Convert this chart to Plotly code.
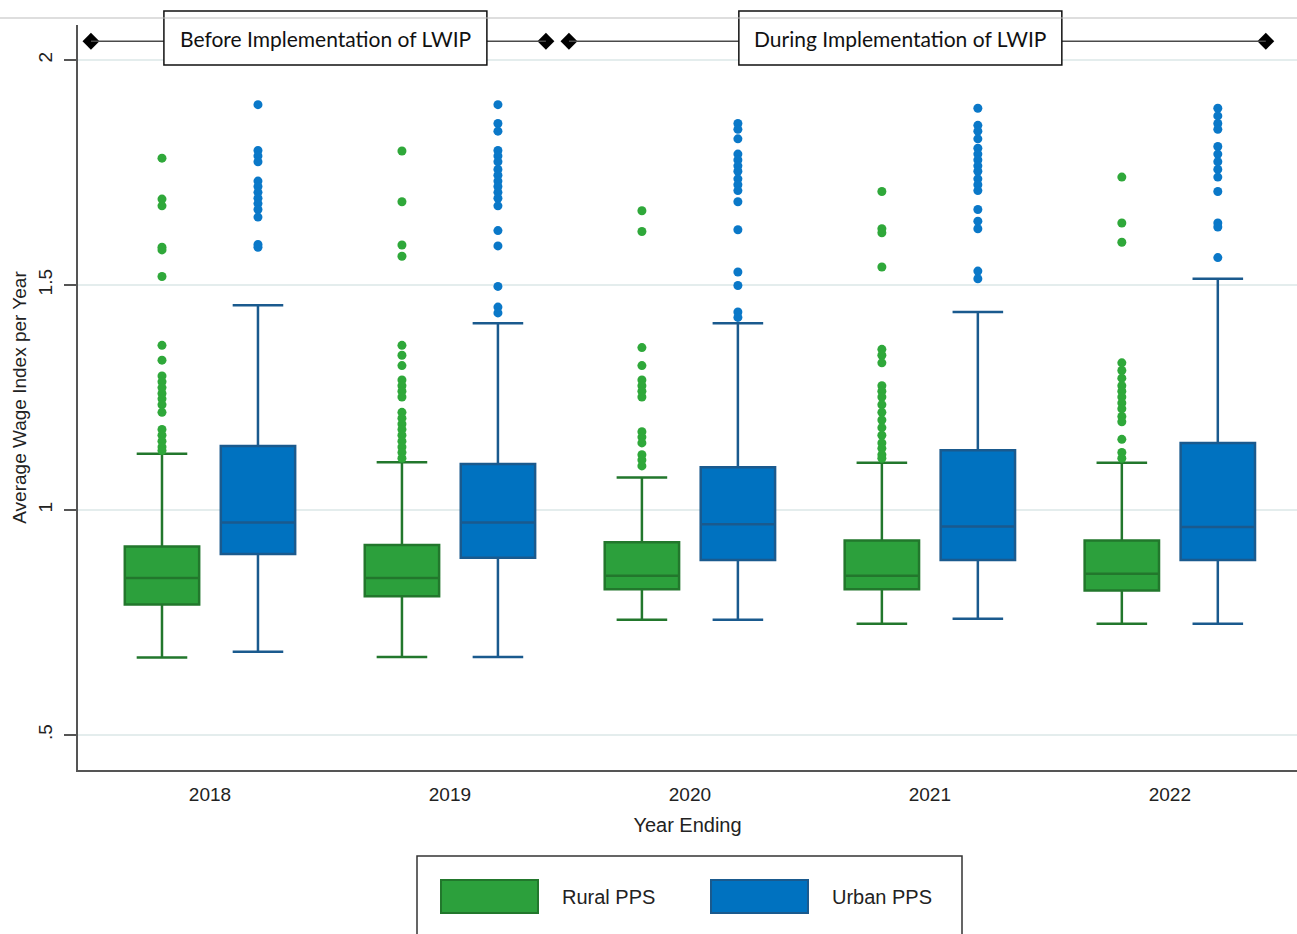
import plotly.graph_objects as go

# ---------------- data ----------------
years = [2018, 2019, 2020, 2021, 2022]

rural_lower  = [0.672, 0.673, 0.756, 0.747, 0.747]
rural_q1     = [0.790, 0.808, 0.824, 0.824, 0.821]
rural_median = [0.849, 0.849, 0.854, 0.854, 0.858]
rural_q3     = [0.919, 0.922, 0.928, 0.932, 0.932]
rural_upper  = [1.125, 1.106, 1.072, 1.105, 1.105]

urban_lower  = [0.685, 0.673, 0.756, 0.758, 0.747]
urban_q1     = [0.902, 0.894, 0.889, 0.889, 0.889]
urban_median = [0.972, 0.972, 0.968, 0.963, 0.962]
urban_q3     = [1.142, 1.102, 1.095, 1.133, 1.149]
urban_upper  = [1.455, 1.415, 1.415, 1.440, 1.514]

rural_outliers_2018 = [1.782, 1.691, 1.676, 1.584, 1.578, 1.519, 1.366, 1.333, 1.298, 1.285, 1.272,
                       1.259, 1.247, 1.234, 1.217, 1.179, 1.166, 1.153, 1.140, 1.132]
rural_outliers_2019 = [1.798, 1.685, 1.589, 1.564, 1.366, 1.344, 1.321, 1.289, 1.276, 1.264, 1.251,
                       1.217, 1.204, 1.191, 1.179, 1.166, 1.153, 1.140, 1.128, 1.115]
rural_outliers_2020 = [1.665, 1.619, 1.361, 1.321, 1.289, 1.276, 1.264, 1.251, 1.174, 1.162, 1.149,
                       1.123, 1.111, 1.098]
rural_outliers_2021 = [1.708, 1.625, 1.616, 1.540, 1.357, 1.344, 1.327, 1.276, 1.264, 1.251, 1.234,
                       1.217, 1.200, 1.183, 1.166, 1.149, 1.137, 1.123, 1.115]
rural_outliers_2022 = [1.740, 1.638, 1.595, 1.327, 1.310, 1.293, 1.276, 1.264, 1.251, 1.238, 1.225,
                       1.208, 1.196, 1.157, 1.128, 1.115]

urban_outliers_2018 = [1.901, 1.799, 1.787, 1.774, 1.731, 1.719, 1.706, 1.693, 1.681, 1.668, 1.651,
                       1.590, 1.584]
urban_outliers_2019 = [1.901, 1.859, 1.842, 1.799, 1.787, 1.774, 1.757, 1.744, 1.731, 1.719, 1.706,
                       1.693, 1.676, 1.621, 1.587, 1.497, 1.451, 1.438]
urban_outliers_2020 = [1.859, 1.846, 1.825, 1.791, 1.778, 1.765, 1.753, 1.736, 1.723, 1.710, 1.685,
                       1.623, 1.529, 1.499, 1.440, 1.428]
urban_outliers_2021 = [1.893, 1.855, 1.842, 1.825, 1.804, 1.791, 1.778, 1.765, 1.753, 1.736, 1.723,
                       1.710, 1.668, 1.642, 1.625, 1.531, 1.514]
urban_outliers_2022 = [1.893, 1.876, 1.859, 1.846, 1.808, 1.791, 1.774, 1.757, 1.740, 1.708, 1.638,
                       1.629, 1.561]

rural_outliers = [rural_outliers_2018, rural_outliers_2019, rural_outliers_2020,
                  rural_outliers_2021, rural_outliers_2022]
urban_outliers = [urban_outliers_2018, urban_outliers_2019, urban_outliers_2020,
                  urban_outliers_2021, urban_outliers_2022]

series_names = ["Rural PPS", "Urban PPS"]
ytick_vals = [0.5, 1, 1.5, 2]
ytick_text = [".5", "1", "1.5", "2"]
phase_labels = ["Before Implementation of LWIP", "During Implementation of LWIP"]

# ---------------- style ----------------
W, H = 1297, 934
ML, MR, MT, MB = 78, 0, 25, 164
PW, PH = W - ML - MR, H - MT - MB
FONT = "Arial"

GREEN_FILL, GREEN_LINE, GREEN_DOT = "#2ca03c", "#22772c", "#2fa83a"
BLUE_FILL, BLUE_LINE, BLUE_DOT = "#0072c0", "#1a5a8e", "#0a78c8"
OFFSET = 0.2
BOXW = 0.31


def px_x(px):
    return (px - ML) / PW


def px_y(py):
    return (H - MB - py) / PH


fig = go.Figure()

groups = [
    (series_names[0], -OFFSET, rural_lower, rural_q1, rural_median, rural_q3, rural_upper,
     rural_outliers, GREEN_FILL, GREEN_LINE, GREEN_DOT),
    (series_names[1], OFFSET, urban_lower, urban_q1, urban_median, urban_q3, urban_upper,
     urban_outliers, BLUE_FILL, BLUE_LINE, BLUE_DOT),
]

for name, off, lo, q1, med, q3, up, outs, fill, line, dot in groups:
    xs = [yr + off for yr in years]
    fig.add_trace(go.Box(
        name=name, x=xs, q1=q1, median=med, q3=q3, lowerfence=lo, upperfence=up,
        width=BOXW, whiskerwidth=0.68, fillcolor=fill,
        line=dict(color=line, width=2.5), boxpoints=False, showlegend=False,
    ))
    ox, oy = [], []
    for yr, vals in zip(years, outs):
        ox += [yr + off] * len(vals)
        oy += vals
    fig.add_trace(go.Scatter(
        x=ox, y=oy, mode="markers", showlegend=False,
        marker=dict(color=dot, size=9, line=dict(width=0)),
    ))

# ---------- phase timeline annotations at the top ----------
phase_y = 2.042
phases = [
    # (label, start, end, box_left, box_right)
    (phase_labels[0], 2017.504, 2019.40, 2017.808, 2019.154),
    (phase_labels[1], 2019.496, 2022.40, 2020.204, 2021.550),
]
shapes = []
annotations = []
for label, x0, x1, b0, b1 in phases:
    shapes.append(dict(type="line", xref="x", yref="y", x0=x0, x1=b0, y0=phase_y, y1=phase_y,
                       line=dict(color="#4a4a4a", width=1.5), layer="above"))
    shapes.append(dict(type="line", xref="x", yref="y", x0=b1, x1=x1, y0=phase_y, y1=phase_y,
                       line=dict(color="#4a4a4a", width=1.5), layer="above"))
    shapes.append(dict(type="rect", xref="x", yref="paper", x0=b0, x1=b1,
                       y0=px_y(65), y1=px_y(11), fillcolor="white",
                       line=dict(color="#111111", width=1.5), layer="above"))
    annotations.append(dict(xref="x", yref="paper", x=(b0 + b1) / 2, y=px_y(38), text=label,
                            showarrow=False, xanchor="center", yanchor="middle",
                            font=dict(family="Lato, Carlito, sans-serif", size=21, color="#111111")))
    fig.add_trace(go.Scatter(x=[x0, x1], y=[phase_y, phase_y], mode="markers", showlegend=False,
                             cliponaxis=False,
                             marker=dict(symbol="diamond", size=13, color="black")))

# thin grey top border line
shapes.append(dict(type="line", xref="paper", yref="paper", x0=px_x(0), x1=1,
                   y0=px_y(18), y1=px_y(18), line=dict(color="#bdbdbd", width=1)))

# ---------- custom legend ----------
shapes.append(dict(type="rect", xref="paper", yref="paper", x0=px_x(417), x1=px_x(962),
                   y0=px_y(945), y1=px_y(856), fillcolor="white",
                   line=dict(color="#333333", width=1.5)))
legend_items = [
    (series_names[0], GREEN_FILL, GREEN_LINE, 441, 538, 560),
    (series_names[1], BLUE_FILL, BLUE_LINE, 711, 808, 830),
]
for name, fill, line, r0, r1, tx in legend_items:
    shapes.append(dict(type="rect", xref="paper", yref="paper", x0=px_x(r0), x1=px_x(r1),
                       y0=px_y(913), y1=px_y(880), fillcolor=fill,
                       line=dict(color=line, width=2)))
    annotations.append(dict(xref="paper", yref="paper", x=px_x(tx), y=px_y(897), text=name,
                            showarrow=False, xanchor="left", yanchor="middle",
                            font=dict(family=FONT, size=20, color="#222222")))

fig.update_layout(
    width=W, height=H,
    margin=dict(l=ML, r=MR, t=MT, b=MB, pad=0),
    paper_bgcolor="white", plot_bgcolor="white",
    font=dict(family=FONT, size=19, color="#222222"),
    showlegend=False,
    shapes=shapes, annotations=annotations,
)
fig.update_xaxes(
    range=[2017.45, 2022.53], tickmode="array", tickvals=years,
    ticktext=[str(y) for y in years], ticks="", showgrid=False, zeroline=False,
    showline=True, linecolor="#555555", linewidth=2,
    tickfont=dict(size=19), ticklabelstandoff=6,
    title=dict(text="Year Ending", font=dict(size=20), standoff=14),
)
fig.update_yaxes(
    range=[0.422, 2.078], tickmode="array", tickvals=ytick_vals, ticktext=ytick_text,
    tickangle=-90, ticks="outside", ticklen=12, tickwidth=1.5, tickcolor="#555555",
    showgrid=True, gridcolor="#e4eded", gridwidth=2, zeroline=False,
    showline=True, linecolor="#555555", linewidth=2,
    tickfont=dict(size=19), ticklabelstandoff=4,
    title=dict(text="Average Wage Index per Year", font=dict(size=19), standoff=4),
)

fig.write_html("out.html", config={"displayModeBar": False})

# remove the default page margin so the figure sits at the window's top-left corner
with open("out.html", "r", encoding="utf-8") as f:
    html = f.read()
html = html.replace("<body>", '<body style="margin:0;padding:0;">', 1)
with open("out.html", "w", encoding="utf-8") as f:
    f.write(html)
